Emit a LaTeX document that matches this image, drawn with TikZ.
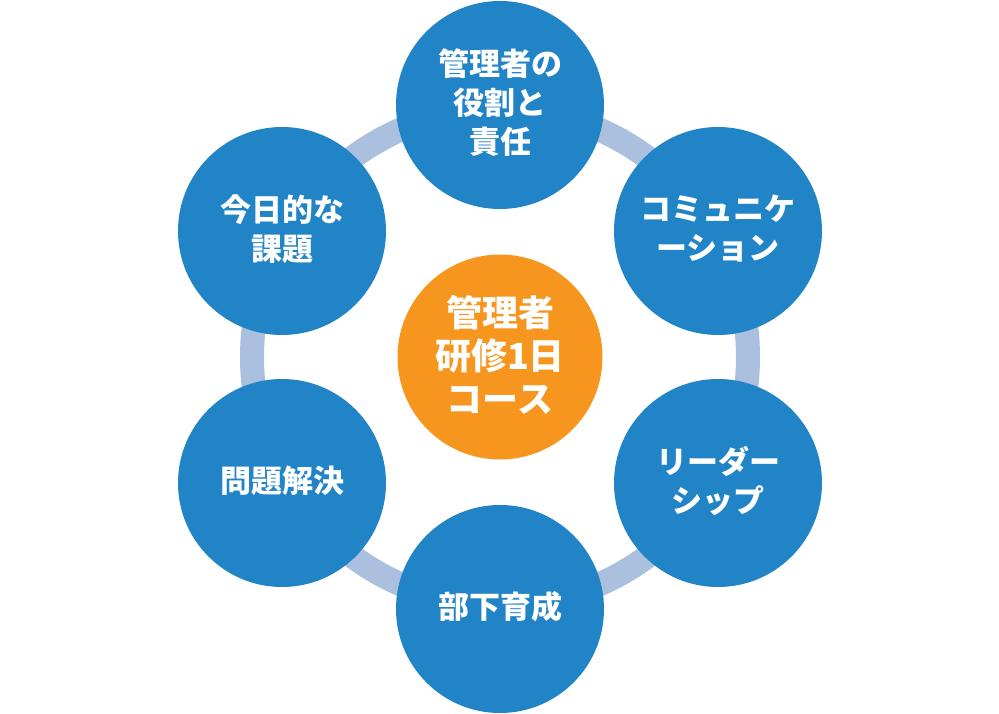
\documentclass[tikz,border=0pt]{standalone}
\usepackage{fontspec}
\newfontfamily\jp{Noto Sans CJK JP}
\definecolor{bluec}{RGB}{33,132,198}
\definecolor{orangec}{RGB}{247,150,30}
\definecolor{ringc}{RGB}{170,192,222}
\tikzset{
  bubble/.style={circle, fill=bluec, minimum size=208pt, inner sep=0pt},
  hub/.style={circle, fill=orangec, minimum size=205pt, inner sep=0pt},
  txt/.style={text=white, align=center, inner sep=0pt, font=\jp\bfseries\fontsize{31}{39}\selectfont},
  bigtxt/.style={txt, font=\jp\bfseries\fontsize{36}{43}\selectfont},
}
\begin{document}
\begin{tikzpicture}[x=1pt,y=-1pt]
\useasboundingbox (0,0) rectangle (999,714);
\fill[white] (0,0) rectangle (999,714);
\draw[ringc, line width=24pt] (500,357) circle[radius=248pt];
\node[hub] (c) at (500,357) {};
\node[bubble] (n1) at (500,105) {};
\node[bubble] (n2) at (718,231) {};
\node[bubble] (n3) at (718,483) {};
\node[bubble] (n4) at (500,609) {};
\node[bubble] (n5) at (282,483) {};
\node[bubble] (n6) at (282,231) {};
\node[bigtxt] (tc) at (500,355) {管理者\\研修1日\\コース};
\node[txt] (t1) at (500,103) {管理者の\\役割と\\責任};
\node[txt] (t2) at (718,229) {コミュニケ\\ーション};
\node[txt] (t3) at (718,481) {リーダー\\シップ};
\node[txt] (t4) at (500,607) {部下育成};
\node[txt] (t5) at (282,481) {問題解決};
\node[txt] (t6) at (282,229) {今日的な\\課題};
\end{tikzpicture}
\end{document}
